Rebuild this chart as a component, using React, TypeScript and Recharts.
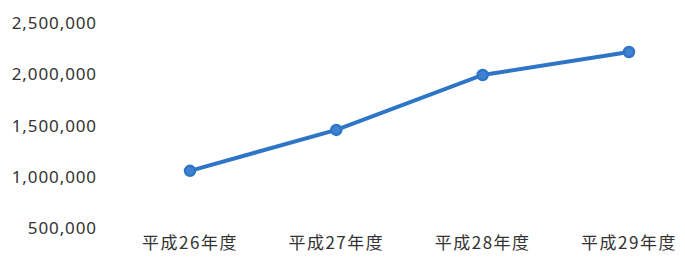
import { LineChart, Line, XAxis, YAxis } from "recharts";

// 年度ラベル
const years = ["平成26年度", "平成27年度", "平成28年度", "平成29年度"];
// 各年度の値
const values = [1058000, 1457000, 1993000, 2217000];
// 縦軸の目盛
const yTicks = [500000, 1000000, 1500000, 2000000, 2500000];

const chartData = years.map((year, i) => ({ year, value: values[i] }));

const blue = "#2e75c8";

export default function App() {
  return (
    <div style={{ position: "absolute", left: 0, top: 0, width: 685, height: 266, background: "#fff" }}>
      <LineChart
        width={685}
        height={266}
        data={chartData}
        margin={{ top: 23, right: 10, left: 0, bottom: 8 }}
      >
        <XAxis
          dataKey="year"
          axisLine={false}
          tickLine={false}
          tickSize={0}
          tickMargin={9}
          height={30}
          padding={{ left: 85, right: 46 }}
          interval={0}
          tick={{
            fill: "#333",
            fontSize: 17,
            fontFamily: "'Noto Sans CJK JP', sans-serif",
            letterSpacing: 1.5,
          }}
        />
        <YAxis
          type="number"
          domain={[500000, 2500000]}
          ticks={yTicks}
          axisLine={false}
          tickLine={false}
          tickSize={0}
          tickMargin={8}
          width={105}
          tickFormatter={(v: number) => v.toLocaleString("en-US")}
          tick={{
            fill: "#333",
            fontSize: 17,
            fontFamily: "'Noto Sans', sans-serif",
            letterSpacing: 0.9,
          }}
        />
        <Line
          type="linear"
          dataKey="value"
          stroke={blue}
          strokeWidth={4}
          dot={{ r: 5, fill: "#3f82d0", stroke: blue, strokeWidth: 2.5 }}
          isAnimationActive={false}
        />
      </LineChart>
    </div>
  );
}
